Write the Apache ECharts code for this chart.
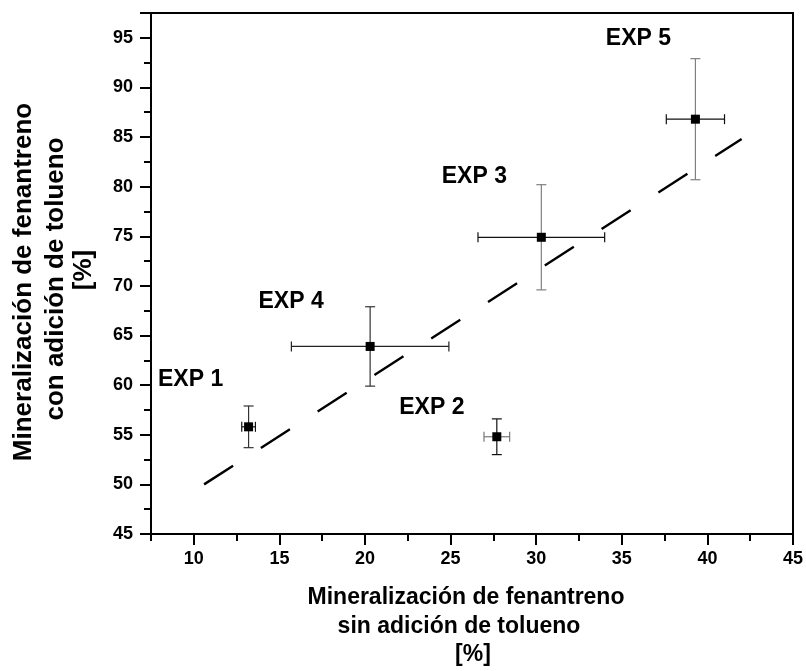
<!DOCTYPE html>
<html>
<head>
<meta charset="utf-8">
<script src="https://cdn.jsdelivr.net/npm/echarts@6/dist/echarts.min.js"></script>
<style>
  html, body { margin: 0; padding: 0; background: #fff; }
  #chart { width: 806px; height: 671px; }
</style>
</head>
<body>
<div id="chart"></div>
<script>
// Experiments: phenanthrene mineralisation without (x) and with (y) toluene
const names = ['EXP 1', 'EXP 2', 'EXP 3', 'EXP 4', 'EXP 5'];
const xValues = [13.2, 27.7, 30.3, 20.3, 39.3];
const yValues = [55.8, 54.8, 74.9, 63.9, 86.8];
const xErrors = [0.4, 0.75, 3.7, 4.6, 1.7];
const yErrors = [2.1, 1.8, 5.3, 4.0, 6.1];

// Dashed trend line end points
const trendX = [10.6, 42.0];
const trendY = [50.0, 84.8];

// Axis ticks
const xTickLabels = [10, 15, 20, 25, 30, 35, 40, 45];
const yTickStep = 5;

// Styling: label offsets (px) and error bar colours
const labelOffsets = [[-58, -47], [-65, -29], [-67, -61], [-79, -45], [-57, -81]];
const xErrColors = ['#111', '#777', '#111', '#222', '#111'];
const yErrColors = ['#333', '#111', '#808080', '#333', '#808080'];

const FONT = '"Liberation Sans", Arial, sans-serif';

const chart = echarts.init(document.getElementById('chart'));

const errData = xValues.map((x, i) => [x, yValues[i], xErrors[i], yErrors[i], i]);
const pointData = xValues.map((x, i) => ({
  name: names[i],
  value: [x, yValues[i]],
  label: { offset: labelOffsets[i] }
}));

function renderError(params, api) {
  const x = api.value(0), y = api.value(1);
  const ex = api.value(2), ey = api.value(3);
  const i = api.value(4);
  const c = api.coord([x, y]);
  const l = api.coord([x - ex, y]);
  const r = api.coord([x + ex, y]);
  const t = api.coord([x, y + ey]);
  const b = api.coord([x, y - ey]);
  const cap = 5;
  const hs = { stroke: xErrColors[i], lineWidth: 1.2 };
  const vs = { stroke: yErrColors[i], lineWidth: 1.2 };
  return {
    type: 'group',
    children: [
      { type: 'line', shape: { x1: l[0], y1: c[1], x2: r[0], y2: c[1] }, style: hs },
      { type: 'line', shape: { x1: l[0], y1: c[1] - cap, x2: l[0], y2: c[1] + cap }, style: hs },
      { type: 'line', shape: { x1: r[0], y1: c[1] - cap, x2: r[0], y2: c[1] + cap }, style: hs },
      { type: 'line', shape: { x1: c[0], y1: t[1], x2: c[0], y2: b[1] }, style: vs },
      { type: 'line', shape: { x1: c[0] - cap, y1: t[1], x2: c[0] + cap, y2: t[1] }, style: vs },
      { type: 'line', shape: { x1: c[0] - cap, y1: b[1], x2: c[0] + cap, y2: b[1] }, style: vs }
    ]
  };
}

const axisLabelStyle = { color: '#000', fontFamily: FONT, fontWeight: 'bold', fontSize: 18 };

chart.setOption({
  animation: false,
  backgroundColor: '#fff',
  grid: {
    left: 151, top: 13, right: 12, bottom: 137,
    show: true, borderColor: '#000', borderWidth: 2, backgroundColor: 'transparent'
  },
  xAxis: [
    {
      type: 'value', min: 7.5, max: 45,
      axisLine: { show: true, onZero: false, lineStyle: { color: '#000', width: 2 } },
      axisTick: { show: true, inside: false, length: 11, customValues: xTickLabels,
        lineStyle: { color: '#000', width: 2 } },
      axisLabel: Object.assign({ margin: 16, customValues: xTickLabels }, axisLabelStyle),
      splitLine: { show: false }
    },
    {
      // minor ticks only
      type: 'value', min: 7.5, max: 45, interval: 2.5, position: 'bottom',
      axisLine: { show: false, onZero: false },
      axisTick: { show: true, inside: false, length: 7, lineStyle: { color: '#000', width: 2 } },
      axisLabel: { show: false },
      splitLine: { show: false }
    }
  ],
  yAxis: {
    type: 'value', min: 45, max: 97.5, interval: yTickStep,
    axisLine: { show: true, onZero: false, lineStyle: { color: '#000', width: 2 } },
    axisTick: { show: true, inside: false, length: 11, lineStyle: { color: '#000', width: 2 } },
    minorTick: { show: true, splitNumber: 2, length: 7, lineStyle: { color: '#000', width: 2 } },
    axisLabel: Object.assign({ margin: 18, showMaxLabel: false }, axisLabelStyle),
    splitLine: { show: false },
    minorSplitLine: { show: false }
  },
  series: [
    {
      type: 'custom',
      renderItem: renderError,
      data: errData,
      encode: { x: 0, y: 1 },
      z: 2,
      silent: true
    },
    {
      type: 'line',
      data: trendX.map((x, i) => [x, trendY[i]]),
      symbol: 'none',
      lineStyle: { color: '#000', width: 2.4, type: [34.5, 33] },
      z: 3,
      silent: true
    },
    {
      type: 'scatter',
      data: pointData,
      symbol: 'rect',
      symbolSize: 9,
      itemStyle: { color: '#000', opacity: 1 },
      z: 4,
      label: {
        show: true,
        position: 'inside',
        formatter: '{b}',
        color: '#000',
        opacity: 1,
        textBorderWidth: 0,
        fontFamily: FONT,
        fontWeight: 'bold',
        fontSize: 23
      }
    }
  ],
  graphic: [
    // x axis title
    { type: 'text', x: 466, y: 598, style: { text: 'Mineralización de fenantreno', font: 'bold 23px ' + FONT, fill: '#000', textAlign: 'center', textVerticalAlign: 'middle' } },
    { type: 'text', x: 459, y: 627, style: { text: 'sin adición de tolueno', font: 'bold 23px ' + FONT, fill: '#000', textAlign: 'center', textVerticalAlign: 'middle' } },
    { type: 'text', x: 473, y: 655, style: { text: '[%]', font: 'bold 23px ' + FONT, fill: '#000', textAlign: 'center', textVerticalAlign: 'middle' } },
    // y axis title
    { type: 'text', x: 24, y: 282, rotation: Math.PI / 2, style: { text: 'Mineralización de fenantreno', font: 'bold 26px ' + FONT, fill: '#000', textAlign: 'center', textVerticalAlign: 'middle' } },
    { type: 'text', x: 56, y: 279, rotation: Math.PI / 2, style: { text: 'con adición de tolueno', font: 'bold 26px ' + FONT, fill: '#000', textAlign: 'center', textVerticalAlign: 'middle' } },
    { type: 'text', x: 84, y: 270, rotation: Math.PI / 2, style: { text: '[%]', font: 'bold 26px ' + FONT, fill: '#000', textAlign: 'center', textVerticalAlign: 'middle' } }
  ]
});
</script>
</body>
</html>
